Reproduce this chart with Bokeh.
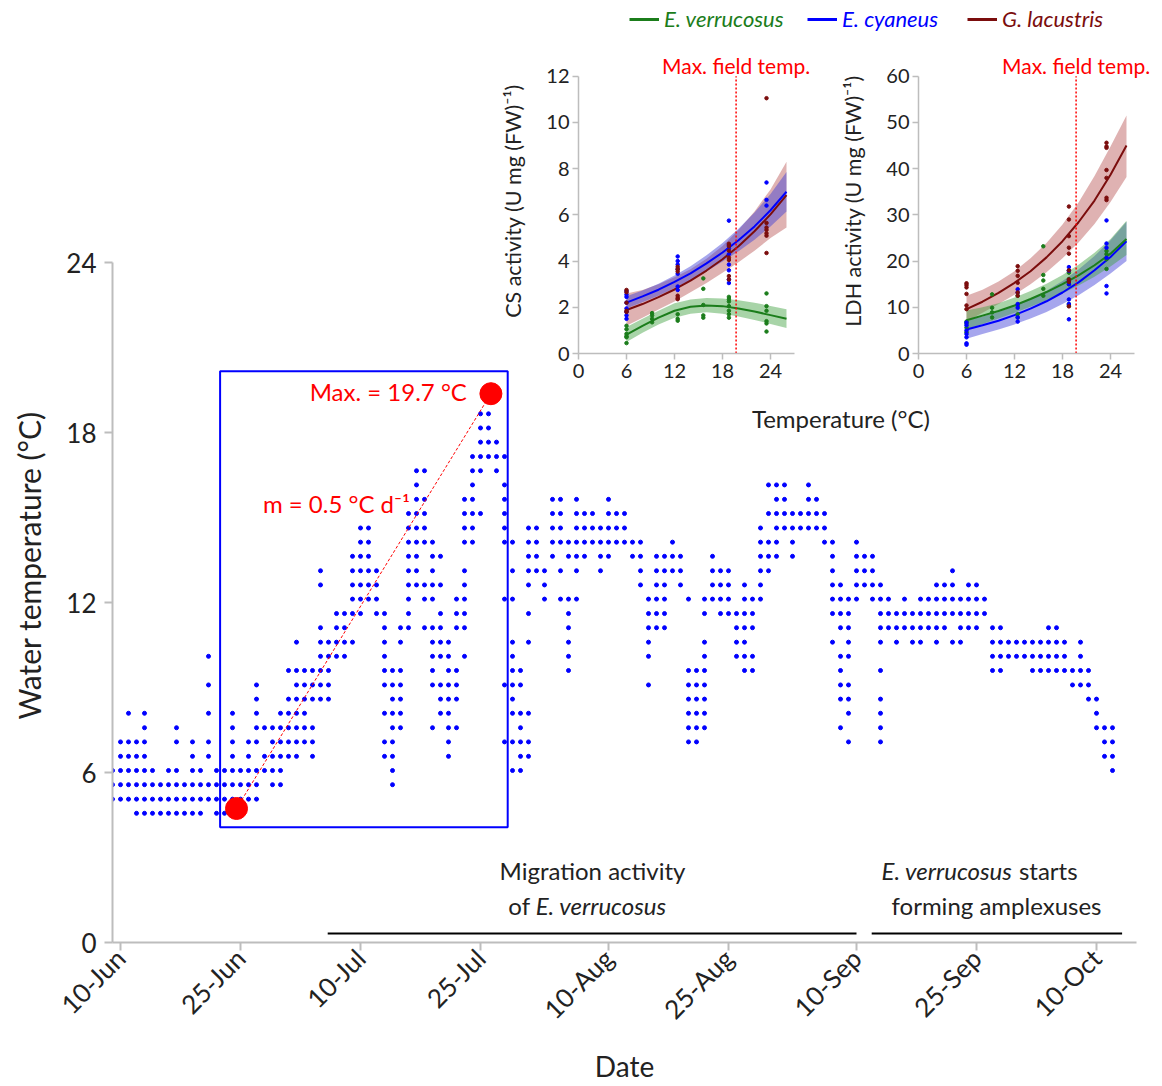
import pandas as pd
from bokeh.plotting import figure
from bokeh.models import (Range1d, FixedTicker, DatetimeTickFormatter, Legend,
                          LegendItem, InlineStyleSheet)
from bokeh.core.properties import value
from bokeh.embed import file_html
from bokeh.resources import INLINE

FONT = "Lato"

# ---------------- main chart data ----------------
START_DATE = "2018-06-09"          # day 0 of the logger record
# distinct temperature levels (deg C) of the logger
LEVEL_TEMPS = [4.56, 5.06, 5.57, 6.07, 6.57, 7.08, 7.58, 8.09, 8.59, 9.09,
               9.60, 10.10, 10.60, 11.11, 11.61, 12.12, 12.62, 13.12, 13.63,
               14.13, 14.63, 15.14, 15.64, 16.15, 16.65, 17.15, 17.66, 18.16,
               18.66]
# days (counted from START_DATE) on which each level was recorded
DAYS_AT_LEVEL = [
    [3, 4, 5, 6, 7, 8, 9, 10, 11, 13, 14],
    [0, 1, 2, 3, 4, 5, 6, 7, 8, 9, 10, 11, 12, 13, 14, 15, 16, 17, 18],
    [0, 1, 2, 3, 4, 5, 6, 7, 8, 9, 10, 11, 12, 13, 14, 15, 16, 17, 18, 20, 21, 35],
    [0, 1, 2, 3, 4, 5, 7, 8, 10, 11, 13, 14, 15, 16, 17, 18, 19, 20, 21, 35, 50, 51, 125],
    [1, 2, 3, 4, 10, 12, 15, 17, 19, 20, 21, 22, 23, 25, 34, 35, 42, 51, 52, 124, 125],
    [1, 2, 3, 4, 8, 10, 12, 15, 17, 18, 20, 21, 22, 23, 24, 25, 34, 35, 42, 49, 50, 51,
     52, 72, 73, 92, 96, 124, 125],
    [4, 8, 15, 18, 19, 20, 21, 22, 23, 24, 25, 35, 36, 40, 42, 43, 51, 72, 73, 74, 91,
     96, 123, 124, 125],
    [2, 4, 12, 15, 18, 21, 22, 23, 24, 34, 35, 36, 41, 42, 50, 51, 52, 72, 73, 74, 92,
     96, 123],
    [18, 22, 23, 24, 25, 26, 27, 35, 36, 41, 42, 43, 50, 72, 73, 74, 91, 92, 96, 122, 123],
    [12, 18, 23, 24, 25, 26, 27, 34, 35, 36, 40, 41, 42, 43, 49, 50, 51, 67, 72, 73, 74,
     91, 92, 120, 121, 122],
    [22, 23, 24, 25, 26, 27, 34, 35, 36, 40, 42, 43, 50, 51, 57, 72, 73, 74, 79, 80, 91,
     96, 110, 111, 115, 116, 117, 118, 119, 120, 121, 122],
    [12, 26, 27, 28, 29, 34, 40, 41, 42, 44, 50, 57, 67, 74, 78, 79, 80, 91, 92, 110,
     111, 112, 113, 114, 115, 116, 117, 118, 119, 121],
    [23, 26, 27, 28, 29, 30, 34, 36, 40, 41, 42, 50, 52, 57, 67, 74, 78, 79, 90, 92, 96,
     98, 100, 101, 103, 105, 106, 110, 111, 112, 113, 114, 115, 116, 117, 118, 119, 121],
    [26, 28, 29, 34, 36, 37, 39, 40, 41, 43, 44, 57, 67, 68, 69, 78, 79, 80, 91, 92, 96,
     97, 98, 99, 100, 101, 102, 103, 104, 106, 107, 108, 110, 111, 117, 118],
    [28, 29, 30, 31, 33, 34, 37, 41, 43, 44, 52, 57, 67, 68, 69, 74, 76, 77, 78, 79, 80,
     90, 91, 92, 96, 97, 98, 99, 100, 101, 102, 103, 104, 105, 106, 107, 108, 109],
    [30, 31, 32, 33, 37, 39, 40, 43, 44, 49, 50, 54, 56, 57, 58, 67, 68, 69, 72, 74, 75,
     76, 77, 79, 80, 81, 90, 91, 92, 93, 95, 96, 97, 99, 101, 102, 103, 104, 105, 106,
     107, 108, 109],
    [26, 30, 31, 32, 33, 37, 38, 39, 40, 41, 44, 52, 54, 66, 68, 69, 71, 75, 76, 77, 79,
     81, 90, 91, 93, 94, 95, 96, 103, 104, 105, 107, 108],
    [26, 30, 31, 32, 33, 37, 38, 40, 44, 50, 52, 53, 54, 56, 58, 61, 66, 68, 69, 70, 71,
     75, 76, 77, 81, 82, 90, 93, 94, 95, 105],
    [30, 31, 32, 37, 38, 40, 41, 52, 53, 55, 57, 58, 59, 61, 62, 65, 66, 68, 69, 70, 71,
     75, 81, 82, 83, 85, 90, 93, 94, 95],
    [31, 32, 37, 38, 39, 40, 44, 45, 49, 50, 52, 53, 55, 56, 57, 58, 59, 60, 61, 62, 63,
     64, 65, 66, 70, 81, 82, 83, 85, 89, 90, 93],
    [31, 32, 37, 38, 39, 44, 45, 49, 52, 53, 55, 56, 58, 59, 60, 61, 62, 63, 64, 81, 83,
     84, 85, 86, 87, 88, 89],
    [37, 38, 39, 44, 45, 46, 49, 55, 56, 58, 59, 60, 62, 63, 64, 82, 83, 84, 85, 86, 87,
     88, 89],
    [38, 39, 44, 45, 49, 55, 56, 58, 62, 83, 84, 87, 88],
    [38, 45, 49, 82, 83, 84, 87],
    [38, 39, 45, 46, 48],
    [45, 46, 47, 48, 49],
    [46, 47, 48],
    [46, 47],
    [46, 47],
]

X_TICK_DATES = ["2018-06-10", "2018-06-25", "2018-07-10", "2018-07-25", "2018-08-10",
                "2018-08-25", "2018-09-10", "2018-09-25", "2018-10-10"]
Y_TICKS = [0, 6, 12, 18, 24]

MIN_POINT = (15.5, 4.73)      # (day, deg C)
MAX_POINT = (47.3, 19.37)
MAX_TEMP_TEXT = "Max. = 19.7 °C"
SLOPE_TEXT = "m = 0.5 °C d⁻¹"
WINDOW_DAYS = (13.45, 49.4)
WINDOW_TEMPS = (4.07, 20.16)
MIGRATION_DAYS = (26.9, 93.0)
AMPLEXUS_DAYS = (94.9, 126.2)

# ---------------- inset data ----------------
SPECIES = ["E. verrucosus", "E. cyaneus", "G. lacustris"]
COLORS = ["#1b7d1b", "#0000ff", "#7b0d0d"]
BAND_COLORS = ["#3f9f3f", "#3a3ad8", "#b85454"]
FIT_T = [6, 8, 10, 12, 14, 16, 18, 20, 22, 24, 26]
MAX_FIELD_TEMP = 19.7

CS_EV_FIT = [0.82, 1.2, 1.55, 1.85, 2.02, 2.08, 2.05, 1.95, 1.82, 1.66, 1.5]
CS_EV_LO = [0.5, 0.9, 1.25, 1.55, 1.72, 1.78, 1.72, 1.6, 1.45, 1.28, 1.1]
CS_EV_HI = [1.15, 1.5, 1.85, 2.17, 2.34, 2.4, 2.38, 2.3, 2.2, 2.06, 1.92]
CS_EC_FIT = [2.2, 2.47, 2.76, 3.1, 3.47, 3.9, 4.37, 4.9, 5.5, 6.2, 7.0]
CS_EC_LO = [1.95, 2.22, 2.5, 2.82, 3.17, 3.55, 3.98, 4.42, 4.92, 5.5, 6.15]
CS_EC_HI = [2.48, 2.73, 3.02, 3.38, 3.78, 4.25, 4.78, 5.4, 6.1, 6.9, 7.85]
CS_GL_FIT = [1.88, 2.14, 2.44, 2.77, 3.15, 3.59, 4.08, 4.64, 5.29, 6.02, 6.85]
CS_GL_LO = [1.2, 1.55, 1.9, 2.25, 2.65, 3.05, 3.5, 3.95, 4.45, 5.0, 5.45]
CS_GL_HI = [2.6, 2.75, 3.0, 3.3, 3.65, 4.1, 4.65, 5.35, 6.15, 7.1, 8.3]

LDH_EV_FIT = [7.2, 8.2, 9.2, 10.4, 11.8, 13.3, 15.0, 16.9, 19.1, 21.6, 24.8]
LDH_EV_LO = [5.3, 6.4, 7.6, 8.8, 10.1, 11.5, 13.0, 14.7, 16.6, 18.8, 21.3]
LDH_EV_HI = [9.3, 10.0, 10.9, 12.1, 13.5, 15.1, 17.0, 19.2, 21.8, 24.8, 28.7]
LDH_EC_FIT = [5.2, 6.1, 7.1, 8.3, 9.7, 11.3, 13.2, 15.4, 18.0, 20.9, 24.3]
LDH_EC_LO = [3.2, 4.2, 5.2, 6.3, 7.6, 9.0, 10.7, 12.6, 14.8, 17.3, 20.0]
LDH_EC_HI = [7.2, 8.0, 9.0, 10.3, 11.8, 13.6, 15.7, 18.2, 21.1, 24.5, 28.5]
LDH_GL_FIT = [9.6, 11.2, 13.1, 15.3, 17.8, 20.8, 24.3, 28.4, 33.1, 38.7, 45.0]
LDH_GL_LO = [7.0, 8.8, 10.7, 12.7, 15.0, 17.6, 20.6, 24.0, 28.0, 32.8, 38.2]
LDH_GL_HI = [12.5, 13.8, 15.6, 17.8, 20.6, 23.9, 27.9, 32.7, 38.4, 44.8, 51.5]

CS_EV_PTS = {6.0: [1.2, 1.05, 0.85, 0.75, 0.7, 0.45], 9.2: [1.75, 1.65, 1.5, 1.35],
             12.4: [1.7, 1.5, 1.42], 15.6: [3.25, 2.8, 2.1, 1.65, 1.55],
             18.8: [2.45, 2.35, 2.25, 2.05, 1.85, 1.7, 1.55],
             23.5: [2.6, 2.05, 1.85, 1.4, 1.3, 0.95]}
CS_EC_PTS = {6.0: [2.7, 2.55, 2.45, 2.2, 1.95, 1.8, 1.65, 1.5],
             12.4: [4.2, 4.0, 3.85, 3.65, 3.45, 2.9, 2.75],
             18.8: [5.75, 4.7, 4.55, 4.3, 3.85, 3.6, 3.2, 3.05],
             23.5: [7.4, 6.65, 6.4]}
CS_GL_PTS = {6.0: [2.75, 2.65, 2.2, 1.85, 1.8], 12.4: [3.75, 3.65, 3.55, 2.5, 2.4, 2.35],
             18.8: [4.75, 4.65, 4.45, 4.15, 4.05, 3.35, 3.2],
             23.5: [11.05, 5.65, 5.45, 5.35, 5.2, 5.1, 4.35]}
LDH_EV_PTS = {6.0: [6.9, 6.5, 5.6, 4.6], 9.2: [12.8, 9.9, 8.9, 7.8],
              12.4: [12.5, 10.3, 8.5, 7.8], 15.6: [23.2, 17.0, 15.8, 14.0, 12.5],
              18.8: [17.9, 17.5, 16.1, 15.0, 10.7, 10.3], 23.5: [22.2, 21.5, 20.4, 18.3]}
LDH_EC_PTS = {6.0: [6.7, 6.1, 5.0, 4.2, 3.5, 2.2, 1.9],
              12.4: [13.9, 13.2, 10.7, 9.9, 7.8, 6.9],
              18.8: [18.7, 17.9, 15.7, 15.0, 11.7, 10.7, 7.4],
              23.5: [28.8, 23.8, 22.9, 20.7, 14.6, 13.0]}
LDH_GL_PTS = {6.0: [15.2, 14.8, 14.3, 12.9, 10.4, 9.6],
              12.4: [18.9, 17.9, 16.8, 15.3, 13.2, 12.5],
              18.8: [31.8, 29.0, 25.4, 22.9, 21.6, 18.0, 16.0, 15.5, 10.2],
              23.5: [45.6, 44.8, 44.5, 39.7, 38.0, 33.7, 33.2]}

# ---------------- helpers ----------------
BASE = pd.Timestamp(START_DATE)
NAN = float("nan")


def day(d):
    return BASE + pd.Timedelta(days=d)


def ms(ts):
    return pd.Timestamp(ts).value / 1e6


def place(left, top):
    css = InlineStyleSheet(css=":host { position: absolute !important; left: %dpx !important; "
                               "top: %dpx !important; }" % (left, top))
    return dict(styles={"position": "absolute", "left": "%dpx" % left, "top": "%dpx" % top},
                stylesheets=[css])


AXIS_GREY = "#bdbdbd"
TXT = "#222222"


def style_axis(ax, label_size, tick_out, standoff):
    ax.axis_line_color = AXIS_GREY
    ax.axis_line_width = 2
    ax.major_tick_line_color = AXIS_GREY
    ax.major_tick_line_width = 2
    ax.major_tick_out = tick_out
    ax.major_tick_in = 0
    ax.minor_tick_line_color = None
    ax.major_label_text_font = FONT
    ax.major_label_text_font_size = label_size
    ax.major_label_text_color = TXT
    ax.major_label_standoff = standoff
    ax.axis_label_text_font = FONT
    ax.axis_label_text_font_style = "normal"
    ax.axis_label_text_color = TXT


# ---------------- main figure ----------------
p = figure(width=1152, height=1086, x_axis_type="datetime",
           x_range=Range1d(day(0).to_pydatetime(), day(128).to_pydatetime()),
           y_range=Range1d(0, 26.612),
           output_backend="svg", toolbar_location=None,
           min_border_left=112, min_border_right=16, min_border_top=188,
           min_border_bottom=144)
p.outline_line_color = None
p.xgrid.visible = False
p.ygrid.visible = False

xs, ys = [], []
for temp, days in zip(LEVEL_TEMPS, DAYS_AT_LEVEL):
    for d in days:
        xs.append(day(d))
        ys.append(temp)
p.scatter(x=xs, y=ys, size=4, color="#0000ff")

p.quad(left=[day(WINDOW_DAYS[0])], right=[day(WINDOW_DAYS[1])],
       bottom=[WINDOW_TEMPS[0]], top=[WINDOW_TEMPS[1]],
       fill_color=None, line_color="#0000ff", line_width=2)
p.line(x=[day(MIN_POINT[0]), day(MAX_POINT[0])], y=[MIN_POINT[1], MAX_POINT[1]],
       line_color="red", line_width=1, line_dash="3 2")
p.scatter(x=[day(MIN_POINT[0]), day(MAX_POINT[0])], y=[MIN_POINT[1], MAX_POINT[1]],
          size=22, color="red")

p.text(x=[day(44.3)], y=[19.45], text=[MAX_TEMP_TEXT], text_color="red",
       text_font=value(FONT), text_font_size="24px", text_align="right",
       text_baseline="middle")
p.text(x=[day(18.8)], y=[15.5], text=[SLOPE_TEXT], text_color="red",
       text_font=value(FONT), text_font_size="24px", text_align="left",
       text_baseline="middle")

p.segment(x0=[day(MIGRATION_DAYS[0]), day(AMPLEXUS_DAYS[0])], y0=[0.32, 0.32],
          x1=[day(MIGRATION_DAYS[1]), day(AMPLEXUS_DAYS[1])], y1=[0.32, 0.32],
          line_color="black", line_width=2)

common = dict(text_font=value(FONT), text_font_size="24px", text_color=TXT,
              text_baseline="middle")
p.text(x=[day(60.0)], y=[2.54], text=["Migration activity"], text_align="center", **common)
p.text(x=[day(52.2)], y=[1.31], text=["of"], text_align="right", **common)
p.text(x=[day(52.9)], y=[1.31], text=["E. verrucosus"], text_align="left",
       text_font_style="italic", **common)
p.text(x=[day(112.5)], y=[2.54], text=["E. verrucosus"], text_align="right",
       text_font_style="italic", **common)
p.text(x=[day(113.3)], y=[2.54], text=["starts"], text_align="left", **common)
p.text(x=[day(110.5)], y=[1.31], text=["forming amplexuses"], text_align="center", **common)

p.text(x=[day(91.05)], y=[18.5], text=["Temperature (°C)"], text_align="center",
       text_font=value(FONT), text_font_size="24px", text_color=TXT,
       text_baseline="middle")

yax = p.yaxis[0]
style_axis(yax, "26px", 8, 8)
yax.ticker = FixedTicker(ticks=Y_TICKS)
yax.bounds = (0, 24)
yax.axis_label = "Water temperature (°C)"
yax.axis_label_text_font_size = "30px"
yax.axis_label_standoff = 16

xax = p.xaxis[0]
style_axis(xax, "26px", 8, 3)
xax.ticker = FixedTicker(ticks=[ms(d) for d in X_TICK_DATES])
fmt = "%d-%b"
xax.formatter = DatetimeTickFormatter(days=fmt, months=fmt, years=fmt, hours=fmt,
                                      hourmin=fmt, minutes=fmt, minsec=fmt,
                                      seconds=fmt, milliseconds=fmt, microseconds=fmt)
xax.major_label_orientation = 0.785398
xax.axis_label = "Date"
xax.axis_label_text_font_size = "28px"
xax.axis_label_standoff = 10

# ---------------- legend strip (top right) ----------------
lg = figure(width=560, height=40, x_range=Range1d(0, 1), y_range=Range1d(0, 1),
            output_backend="svg", toolbar_location=None,
            x_axis_location=None, y_axis_location=None,
            min_border_left=0, min_border_right=0, min_border_top=0, min_border_bottom=0,
            **place(600, 0))
lg.outline_line_color = None
lg.xgrid.visible = False
lg.ygrid.visible = False
lg.background_fill_alpha = 0
lg.border_fill_alpha = 0
LEGEND_VX = [29, 207, 367]
for name, color, vx in zip(SPECIES, COLORS, LEGEND_VX):
    r = lg.line(x=[NAN], y=[NAN], line_color=color, line_width=3)
    leg = Legend(items=[LegendItem(label=name, renderers=[r])], location=(vx, 8),
                 orientation="horizontal", label_text_color=color,
                 label_text_font=FONT, label_text_font_style="italic",
                 label_text_font_size="22px", glyph_width=30, glyph_height=24,
                 label_height=24, label_standoff=5, padding=0, margin=0, spacing=0,
                 border_line_color=None, background_fill_alpha=0)
    lg.add_layout(leg)


# ---------------- insets ----------------
def make_inset(left, top, x_end, y_end, y_max, y_ticks, ylabel, fits, pts, text_y):
    width = 83 + int(round(x_end * 8)) + 5
    f = figure(width=width, height=353, x_range=Range1d(0, x_end), y_range=Range1d(0, y_end),
               output_backend="svg", toolbar_location=None,
               min_border_left=83, min_border_right=5, min_border_top=8,
               min_border_bottom=40, **place(left, top))
    f.outline_line_color = None
    f.xgrid.visible = False
    f.ygrid.visible = False
    f.background_fill_alpha = 0
    f.border_fill_alpha = 0
    # bands: red first, then blue, then green
    for idx in (2, 1, 0):
        mean, lo, hi = fits[idx]
        f.varea(x=FIT_T, y1=lo, y2=hi, fill_color=BAND_COLORS[idx], fill_alpha=0.45)
    for idx in (2, 1, 0):
        mean, lo, hi = fits[idx]
        f.line(x=FIT_T, y=mean, line_color=COLORS[idx], line_width=2)
    for idx in (0, 1, 2):
        px, py = [], []
        for t, vals in pts[idx].items():
            for v in vals:
                px.append(t)
                py.append(v)
        f.scatter(x=px, y=py, size=3.5, color=COLORS[idx])
    f.segment(x0=[MAX_FIELD_TEMP], y0=[0], x1=[MAX_FIELD_TEMP], y1=[y_max],
              line_color="red", line_width=1.5, line_dash="2 2")
    f.text(x=[MAX_FIELD_TEMP], y=[text_y], text=["Max. field temp."], text_color="red",
           text_font=value(FONT), text_font_size="21px", text_align="center",
           text_baseline="middle")
    ax = f.xaxis[0]
    style_axis(ax, "20px", 6, 4)
    ax.axis_line_width = 1.5
    ax.major_tick_line_width = 1.5
    ax.ticker = FixedTicker(ticks=[0, 6, 12, 18, 24])
    ax.bounds = (0, 27)
    ay = f.yaxis[0]
    style_axis(ay, "20px", 6, 3)
    ay.axis_line_width = 1.5
    ay.major_tick_line_width = 1.5
    ay.ticker = FixedTicker(ticks=y_ticks)
    ay.bounds = (0, y_max)
    ay.axis_label = ylabel
    ay.axis_label_text_font_size = "21.5px"
    ay.axis_label_standoff = 17
    return f


cs = make_inset(495, 40, 29, 13.2, 12, [0, 2, 4, 6, 8, 10, 12],
                "CS activity (U mg (FW)⁻¹)",
                [(CS_EV_FIT, CS_EV_LO, CS_EV_HI), (CS_EC_FIT, CS_EC_LO, CS_EC_HI),
                 (CS_GL_FIT, CS_GL_LO, CS_GL_HI)],
                [CS_EV_PTS, CS_EC_PTS, CS_GL_PTS], 12.47)
ldh = make_inset(835, 40, 29.5, 66, 60, [0, 10, 20, 30, 40, 50, 60],
                 "LDH activity (U mg (FW)⁻¹)",
                 [(LDH_EV_FIT, LDH_EV_LO, LDH_EV_HI), (LDH_EC_FIT, LDH_EC_LO, LDH_EC_HI),
                  (LDH_GL_FIT, LDH_GL_LO, LDH_GL_HI)],
                 [LDH_EV_PTS, LDH_EC_PTS, LDH_GL_PTS], 62.3)

open("out.html", "w").write(file_html([p, cs, ldh, lg], INLINE))
